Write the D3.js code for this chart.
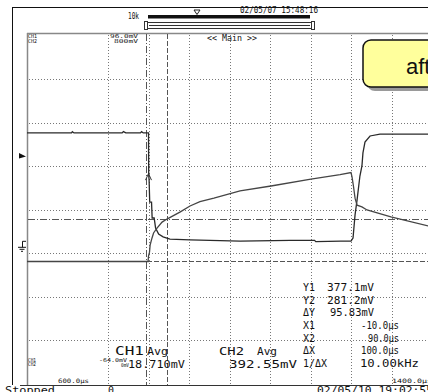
<!DOCTYPE html>
<html>
<head>
<meta charset="utf-8">
<script src="https://cdn.jsdelivr.net/npm/d3@7"></script>
<style>
  body { margin: 0; background: #fff; }
  svg { display: block; }
</style>
</head>
<body>
<div id="chart"></div>
<script>
// trace A (CH1, mV) and trace B (CH2, mV), time in microseconds
const ch1Time = [-600, -380, -376, -368, -130, -124, -112, -40, -34, -26, 0, 1, 3, 6, 15, 18, 28, 35, 50, 72, 106, 205, 452, 700, 820, 826, 950, 1000, 1010, 1020, 1030, 1044, 1054, 1059, 1069, 1094, 1143, 1400];
const ch1Mv = [51.2, 51.2, 51.8, 51.2, 51.2, 51.8, 51.2, 51.2, 51.8, 51.2, 51.2, 31.9, 29.5, 19.4, 19.4, 12.1, 12.1, 7.5, 4.7, 3.4, 2.4, 2.0, 1.5, 1.8, 1.8, 1.2, 1.5, 1.5, 2.9, 13.5, 20.4, 31.4, 36.0, 42.0, 47.0, 49.8, 50.7, 50.7];
const ch2Time = [-600, -2, 0, 5, 8, 17, 25, 42, 67, 91, 155, 205, 254, 323, 452, 605, 802, 946, 1000, 1005, 1012, 1020, 1030, 1054, 1079, 1197, 1400];
const ch2Mv = [280.5, 280.5, 293, 302, 318, 334, 346, 357, 371, 378, 394, 408, 418, 426, 443, 454, 470, 480, 485, 475, 454, 426, 410, 406, 399, 383, 360];

const timeDomain = [-600, 1400];
const ch1Domain = [-64, 96];
const ch2Domain = [0, 800];
const timeDivs = d3.range(-200, 1400, 200);
const ch2Divs = d3.range(100, 800, 100);
const cursorX = [-10, 90];
const cursorY = [377.1, 281.2];

const readoutLabels = ["Y1", "Y2", "ΔY", "X1", "X2", "ΔX", "1/ΔX"];
const readoutValues = ["377.1mV", "281.2mV", "95.83mV", "-10.0µs", "90.0µs", "100.0µs", "10.00kHz"];

const W = 428, H = 392;
const svg = d3.select("#chart").append("svg").attr("width", W).attr("height", H);

const x = d3.scaleLinear().domain(timeDomain).range([27, 432]);
const y1 = d3.scaleLinear().domain(ch1Domain).range([383.5, 35.5]);
const y2 = d3.scaleLinear().domain(ch2Domain).range([383.5, 35.5]);

const mono = "DejaVu Sans Mono, monospace";
function txt(px, py, s, size, len, fill) {
  const t = svg.append("text").attr("x", px).attr("y", py)
    .attr("font-family", mono).attr("font-size", size)
    .attr("fill", fill || "#111").text(s);
  if (len) t.attr("textLength", len).attr("lengthAdjust", "spacingAndGlyphs");
  return t;
}

// frame
svg.append("line").attr("x1", 12).attr("x2", W).attr("y1", 7.5).attr("y2", 7.5).attr("stroke", "#111");
svg.append("line").attr("x1", 12.5).attr("x2", 12.5).attr("y1", 7).attr("y2", 385).attr("stroke", "#111");
svg.append("line").attr("x1", 27).attr("x2", W).attr("y1", 33.5).attr("y2", 33.5).attr("stroke", "#888").attr("stroke-width", 1.5);
svg.append("line").attr("x1", 27.5).attr("x2", 27.5).attr("y1", 33).attr("y2", 385).attr("stroke", "#888").attr("stroke-width", 1.5);
svg.append("line").attr("x1", 20).attr("x2", W).attr("y1", 385.5).attr("y2", 385.5).attr("stroke", "#333").attr("stroke-width", 1.2);

// header: timestamp, record length bar, zoom box
txt(240, 13, "02/05/07 15:48:16", 8, 78);
txt(128, 18.5, "10k", 8, 11);
svg.append("rect").attr("x", 148).attr("y", 15).attr("width", 162).attr("height", 3.5).attr("fill", "#111");
svg.append("path").attr("d", "M194,10 L200,10 L197,14.5 Z").attr("fill", "none").attr("stroke", "#222");
svg.append("rect").attr("x", 146.5).attr("y", 22.5).attr("width", 166).attr("height", 6).attr("fill", "none").attr("stroke", "#333");
svg.append("line").attr("x1", 149).attr("x2", 310).attr("y1", 25.5).attr("y2", 25.5).attr("stroke", "#333");
svg.append("rect").attr("x", 144.5).attr("y", 21.5).attr("width", 3).attr("height", 8).attr("fill", "#fff").attr("stroke", "#333");
svg.append("rect").attr("x", 311.5).attr("y", 21.5).attr("width", 3).attr("height", 8).attr("fill", "#fff").attr("stroke", "#333");

// grid
svg.append("g").selectAll("line").data(timeDivs).join("line")
  .attr("x1", d => Math.round(x(d)) + 0.5).attr("x2", d => Math.round(x(d)) + 0.5)
  .attr("y1", 35).attr("y2", 384)
  .attr("stroke", "#777").attr("stroke-dasharray", "1,2");
svg.append("g").selectAll("line").data(ch2Divs).join("line")
  .attr("x1", 29).attr("x2", W)
  .attr("y1", d => Math.round(y2(d)) + 0.5).attr("y2", d => Math.round(y2(d)) + 0.5)
  .attr("stroke", "#777").attr("stroke-dasharray", "1,2");

// cursors
const cursorStyles = ["7,2,1,2", "5,2"];
cursorX.forEach((c, i) => {
  svg.append("line").attr("x1", Math.round(x(c)) + 0.5).attr("x2", Math.round(x(c)) + 0.5)
    .attr("y1", 34).attr("y2", 385).attr("stroke", "#555").attr("stroke-dasharray", cursorStyles[i]);
});
cursorY.forEach((c, i) => {
  svg.append("line").attr("x1", 28).attr("x2", W)
    .attr("y1", Math.round(y2(c)) + 0.5).attr("y2", Math.round(y2(c)) + 0.5)
    .attr("stroke", "#555").attr("stroke-dasharray", cursorStyles[i]);
});

// traces
const lineCh1 = d3.line().x(d => x(d[0])).y(d => y1(d[1]));
const lineCh2 = d3.line().x(d => x(d[0])).y(d => y2(d[1]));
svg.append("path").attr("d", lineCh1(d3.zip(ch1Time, ch1Mv)))
  .attr("fill", "none").attr("stroke", "#2a2a2a").attr("stroke-width", 1.3);
svg.append("path").attr("d", lineCh2(d3.zip(ch2Time, ch2Mv)))
  .attr("fill", "none").attr("stroke", "#454545").attr("stroke-width", 1.3);

// trigger point mark
svg.append("path").attr("d", `M${x(0) - 3},${y1(29.5)} L${x(0)},${y1(32.5)} L${x(0) + 3},${y1(29.5)}`)
  .attr("fill", "none").attr("stroke", "#333");

// left markers: trigger level and ground
svg.append("path").attr("d", "M19,153 L26,156.5 L19,158.5 Z").attr("fill", "#111");
svg.append("path").attr("d", `M26,${y1(0) - 3} H22.5 V${y1(0) + 3} M18,${y1(0) + 3} H26 M19.5,${y1(0) + 5} H24.5 M21,${y1(0) + 7} H23`)
  .attr("fill", "none").attr("stroke", "#111");

// in-plot labels
txt(28, 38, "CH1", 5.5, 9);
txt(28, 42.5, "CH2", 5.5, 9);
txt(110, 38, "96.0mV", 5.5, 28);
txt(114, 42.5, "800mV", 5.5, 24);
txt(207, 41, "<< Main >>", 8, 50);

txt(28, 361.5, "CH1", 5.5, 8);
txt(28, 366, "CH2", 5.5, 8);
txt(99, 362, "-64.0mV", 5.5, 28);
txt(121, 366.5, "0mV", 5.5, 8);
txt(128, 368, "18.710mV", 11, 57);
txt(115, 355, "CH1", 11.5, 29);
txt(147, 355, "Avg", 10, 21);
txt(219, 355, "CH2", 11, 25);
txt(257, 355, "Avg", 10, 20);
txt(229, 368, "392.55mV", 11, 68);

const readX = [327, 327, 330, 361, 368, 361, 360];
const readLen = [47, 47, 44, 38, 31, 38, 59];
readoutLabels.forEach((l, i) => {
  const by = 291 + i * 12.67;
  txt(303, by, l, 10.5, l.length > 2 ? 24 : 12);
  txt(readX[i], by, readoutValues[i], 10.5, readLen[i]);
});

// time range labels and status bar
txt(58, 383, "600.0µs", 6, 31);
txt(392, 383, "1400.0µs", 6, 40);
txt(5, 394, "Stopped", 10.5, 50);
txt(108, 394, "0", 10.5, 6);
txt(317, 394, "02/05/10 19:02:55", 10.5, 116);

// annotation callout
svg.append("rect").attr("x", 367).attr("y", 44).attr("width", 90).attr("height", 47).attr("rx", 8).attr("fill", "#9a9a9a");
svg.append("rect").attr("x", 363).attr("y", 40).attr("width", 90).attr("height", 47).attr("rx", 8)
  .attr("fill", "#ffff9c").attr("stroke", "#111").attr("stroke-width", 1.5);
svg.append("text").attr("x", 406).attr("y", 74).attr("font-family", "Liberation Sans, Arial, sans-serif")
  .attr("font-size", 22).attr("fill", "#111").text("after");
</script>
</body>
</html>
